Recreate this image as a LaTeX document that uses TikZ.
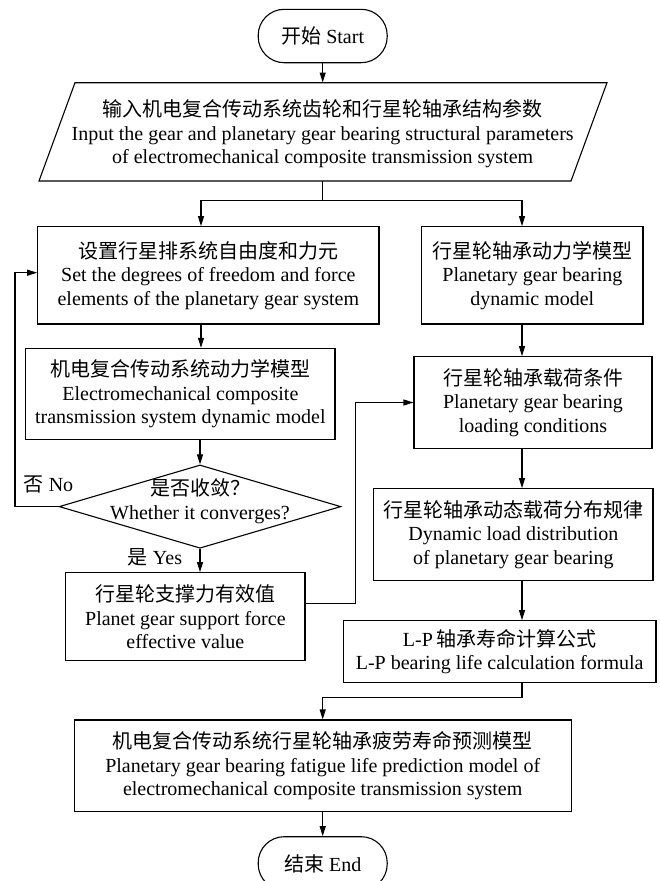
\documentclass[tikz,border=0pt]{standalone}
\usepackage{fontspec}
\setmainfont{Liberation Serif}
\newfontfamily\cjk{Noto Sans CJK SC}
\usetikzlibrary{arrows.meta,shapes.geometric}
\begin{document}
\begin{tikzpicture}[x=1pt,y=-1pt,
  every node/.style={font=\fontsize{20}{23.5}\selectfont, inner sep=0pt, align=center},
  box/.style={draw, line width=1.1pt},
  term/.style={draw, line width=1.1pt, rounded corners=26pt, minimum width=129pt, minimum height=53.4pt},
  conn/.style={line width=1.1pt, -{Triangle[length=10pt,width=6pt]}},
  plain/.style={line width=1.1pt}]
\useasboundingbox (0,0) rectangle (660,881);
\clip (0,0) rectangle (660,881);

% start
\node[term] (start) at (322.7,36) {{\cjk 开始} Start};

% input parallelogram
\node[minimum width=500pt, minimum height=98.3pt] (input) at (322.7,131.85) {};
\draw[plain] (75,82.7) -- (607,82.7) -- (571,181) -- (39,181) -- cycle;
\node (inputtext) at (322.7,134) {{\cjk 输入机电复合传动系统齿轮和行星轮轴承结构参数}\\Input the gear and planetary gear bearing structural parameters\\of electromechanical composite transmission system};

% boxes
\node[box, minimum width=341.3pt, minimum height=97.3pt] (A) at (208.35,275.35)
  {{\cjk 设置行星排系统自由度和力元}\\Set the degrees of freedom and force\\elements of the planetary gear system};
\node[box, minimum width=221.3pt, minimum height=97.3pt] (B) at (532.35,275.35)
  {{\cjk 行星轮轴承动力学模型}\\Planetary gear bearing\\dynamic model};
\node[box, minimum width=309.3pt, minimum height=91pt] (C) at (180.35,393.8)
  {{\cjk 机电复合传动系统动力学模型}\\Electromechanical composite\\transmission system dynamic model};
\node[box, minimum width=238pt, minimum height=91.6pt] (D) at (533,402.5)
  {{\cjk 行星轮轴承载荷条件}\\Planetary gear bearing\\loading conditions};
\node[box, diamond, minimum width=281.7pt, minimum height=83.3pt] (dec) at (200,506.6) {};
\node (dectext) at (200,501) {{\cjk 是否收敛？}\\Whether it converges?};
\node[box, minimum width=279.3pt, minimum height=92pt] (E) at (513.35,534.7)
  {{\cjk 行星轮轴承动态载荷分布规律}\\Dynamic load distribution\\of planetary gear bearing};
\node[box, minimum width=239.2pt, minimum height=88pt] (S) at (185.4,616.7)
  {{\cjk 行星轮支撑力有效值}\\Planet gear support force\\effective value};
\node[box, minimum width=312.7pt, minimum height=62pt] (F) at (499.65,651.7)
  {L-P\,{\cjk 轴承寿命计算公式}\\L-P bearing life calculation formula};
\node[box, minimum width=497pt, minimum height=91.7pt] (G) at (322.7,765.85)
  {{\cjk 机电复合传动系统行星轮轴承疲劳寿命预测模型}\\Planetary gear bearing fatigue life prediction model of\\electromechanical composite transmission system};
\node[term] (end) at (322.7,863.4) {{\cjk 结束} End};

% labels
\node (no) at (48.5,484) {{\cjk 否} No};
\node (yes) at (155,557) {{\cjk 是} Yes};

% connectors
\coordinate (br) at (322.7,200.7);
\coordinate (lcol) at (201,0);
\coordinate (rcol) at (522,0);
\coordinate (loopx) at (15,0);
\coordinate (upx) at (355.7,0);

\draw[conn] (start.south) -- (input.north);
\draw[plain] (input.south) -- (br);
\draw[conn] (br) -| (A.north -| lcol);
\draw[conn] (br) -| (B.north -| rcol);
\draw[conn] (A.south -| lcol) -- (C.north -| lcol);
\draw[conn] (C.south -| dec.north) -- (dec.north);
\draw[conn] (dec.south) -- (dec.south |- S.north);
\draw[conn] (dec.west) -- (dec.west -| loopx) |- ([yshift=2.65pt]A.west);
\draw[conn] ([yshift=13.4pt]S.east) -- ([yshift=13.4pt]S.east -| upx) |- (D.west);
\draw[conn] (B.south -| rcol) -- (D.north -| rcol);
\draw[conn] (D.south -| rcol) -- (E.north -| rcol);
\draw[conn] (E.south -| rcol) -- (F.north -| rcol);
\coordinate (fdrop) at (522,697.3);
\draw[conn] (F.south -| rcol) -- (fdrop) -| (G.north);
\draw[conn] (G.south) -- (end.north);
\end{tikzpicture}
\end{document}
